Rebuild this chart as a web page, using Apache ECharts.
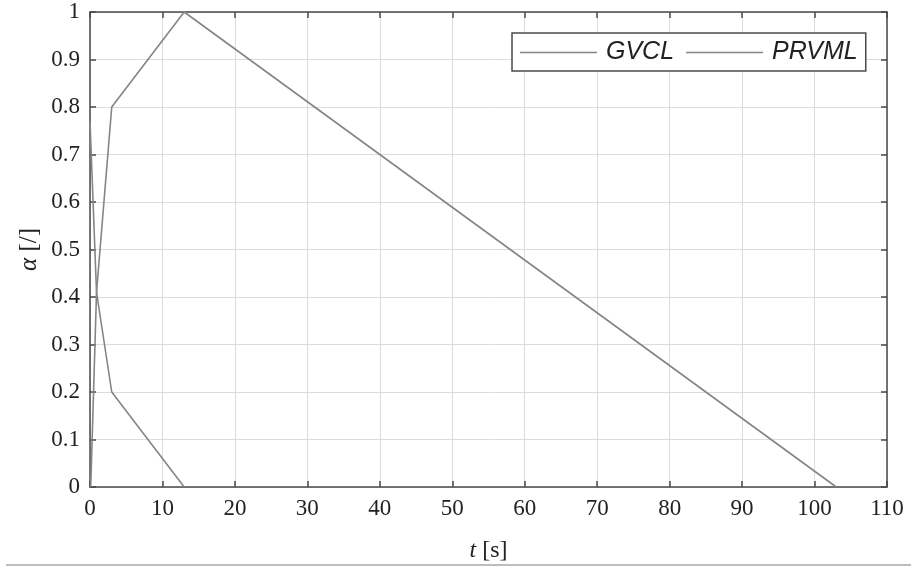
<!DOCTYPE html>
<html>
<head>
    <meta charset="utf-8">
    <title>GVCL / PRVML</title>
    <script src="https://cdn.jsdelivr.net/npm/echarts@6/dist/echarts.min.js"></script>
    <style>
        html, body { margin: 0; padding: 0; background: #fff; }
        #chart { width: 911px; height: 568px; }
    </style>
</head>
<body>
<div id="chart"></div>
<script>
    // data
    var gvclT  = [0, 0.9, 3, 13];
    var gvclA  = [0.77, 0.41, 0.2, 0];
    var prvmlT = [0.1, 0.9, 3, 13, 103];
    var prvmlA = [0, 0.41, 0.8, 1, 0];

    function pairs(xs, ys) {
        return xs.map(function (x, i) { return [x, ys[i]]; });
    }

    var chart = echarts.init(document.getElementById('chart'));
    var serif = '"Liberation Serif", "DejaVu Serif", serif';
    var lineGray = '#858585';
    var axisDark = '#4a4a4a';

    function axisBase(showLabels) {
        return {
            type: 'value',
            axisLine: { show: true, onZero: false, lineStyle: { color: axisDark, width: 1.5 } },
            axisTick: { show: true, inside: true, length: 6, lineStyle: { color: axisDark, width: 1.5 } },
            axisLabel: { show: showLabels, color: '#222', fontFamily: serif, fontSize: 23, margin: 10 },
            splitLine: { show: showLabels, lineStyle: { color: '#dcdcdc', width: 1 } }
        };
    }

    var xMain = Object.assign(axisBase(true), {
        min: 0, max: 110, interval: 10, position: 'bottom',
        name: '{i|t} [s]', nameLocation: 'middle', nameGap: 52,
        nameTextStyle: {
            color: '#222', fontFamily: serif, fontSize: 24,
            rich: { i: { fontStyle: 'italic', fontFamily: serif, fontSize: 24, color: '#222' } }
        }
    });
    var xTop = Object.assign(axisBase(false), { min: 0, max: 110, interval: 10, position: 'top' });

    var yMain = Object.assign(axisBase(true), {
        min: 0, max: 1, interval: 0.1, position: 'left',
        name: '{i|α} [/]', nameLocation: 'middle', nameGap: 48, nameRotate: 90,
        nameMoveOverlap: false,
        nameTextStyle: {
            color: '#222', fontFamily: serif, fontSize: 25,
            rich: { i: { fontStyle: 'italic', fontFamily: serif, fontSize: 25, color: '#222' } }
        }
    });
    yMain.axisLabel.formatter = function (v) { return String(Math.round(v * 10) / 10); };
    var yRight = Object.assign(axisBase(false), { min: 0, max: 1, interval: 0.1, position: 'right' });

    var option = {
        animation: false,
        backgroundColor: '#fff',
        grid: { left: 90, right: 24, top: 12, bottom: 80, containLabel: false },
        xAxis: [xMain, xTop],
        yAxis: [yMain, yRight],
        legend: {
            left: 512, top: 33,
            padding: [7, 8, 6, 8],
            icon: 'rect',
            itemWidth: 77, itemHeight: 1.5, itemGap: 12,
            borderColor: axisDark, borderWidth: 1.5,
            backgroundColor: '#fff',
            textStyle: {
                fontFamily: '"Liberation Sans", Arial, sans-serif',
                fontStyle: 'italic', fontSize: 25, color: '#222', padding: [0, 0, 0, 4]
            },
            data: ['GVCL', 'PRVML']
        },
        series: [
            {
                name: 'GVCL', type: 'line', xAxisIndex: 0, yAxisIndex: 0,
                data: pairs(gvclT, gvclA), symbol: 'none',
                lineStyle: { color: lineGray, width: 1.6 }, itemStyle: { color: lineGray }
            },
            {
                name: 'PRVML', type: 'line', xAxisIndex: 0, yAxisIndex: 0,
                data: pairs(prvmlT, prvmlA), symbol: 'none',
                lineStyle: { color: lineGray, width: 1.6 }, itemStyle: { color: lineGray }
            },
            {
                // keeps the top and right frame axes alive
                name: 'frame', type: 'line', xAxisIndex: 1, yAxisIndex: 1,
                data: [], symbol: 'none', silent: true
            }
        ],
        graphic: [
            {
                type: 'line', silent: true,
                shape: { x1: 6, y1: 565, x2: 911, y2: 565 },
                style: { stroke: '#bdbdbd', lineWidth: 2 }
            }
        ]
    };

    chart.setOption(option);
</script>
</body>
</html>
